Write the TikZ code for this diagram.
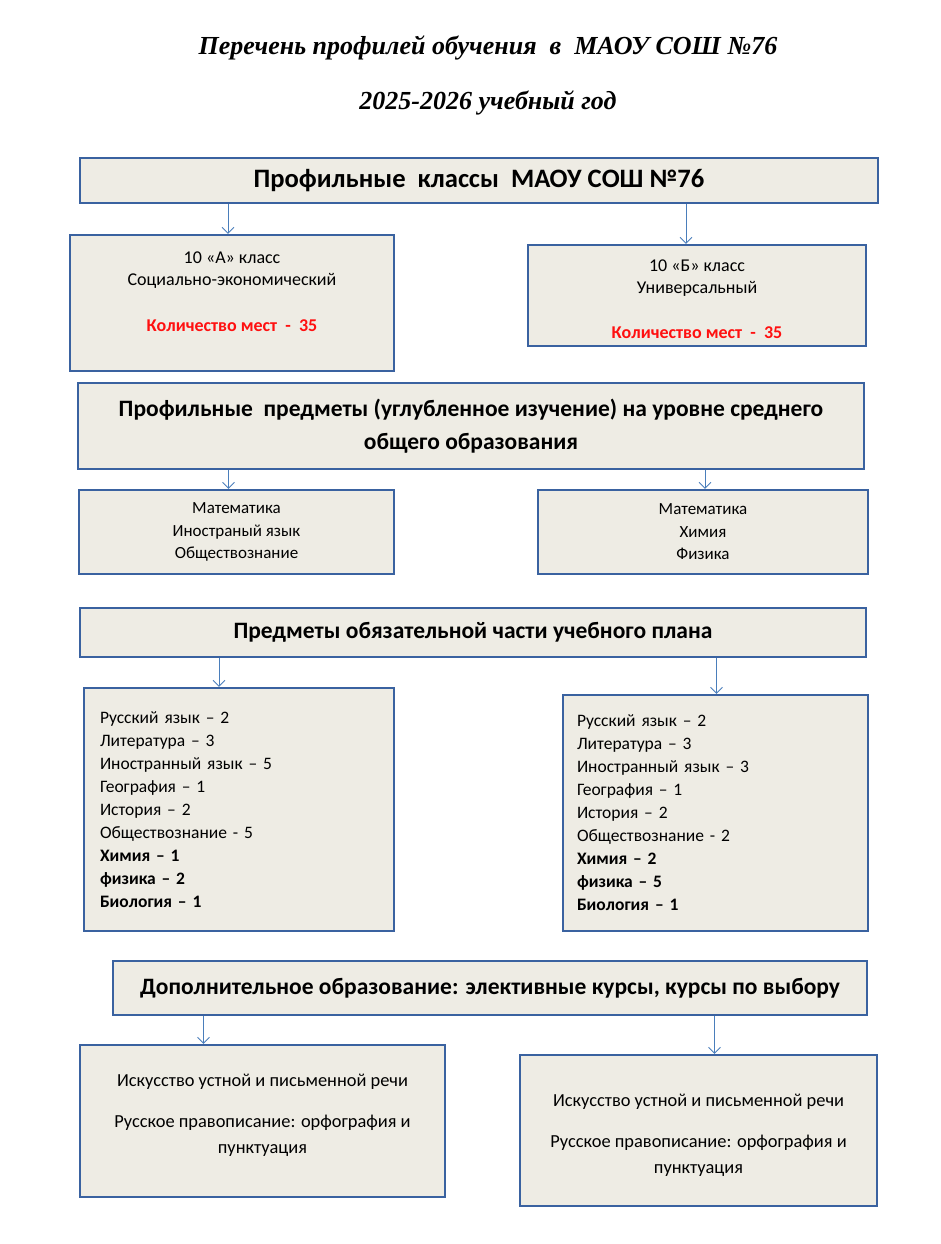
\documentclass[tikz,border=0pt]{standalone}
\usepackage{fontspec}
\setmainfont{Carlito}
\newfontfamily\titelschrift{Liberation Serif}
\usetikzlibrary{arrows.meta,positioning}
\definecolor{rahmen}{HTML}{3A62A0}
\definecolor{fuell}{HTML}{EEECE4}
\definecolor{pfeilblau}{HTML}{4A7EBB}
\definecolor{rot}{HTML}{FF1010}

\begin{document}
\begin{tikzpicture}[x=1pt, y=-1pt,
		box/.style={draw=rahmen, line width=2.2pt, fill=fuell, inner sep=0pt, align=center},
		kopf/.style={box, font=\fontsize{23.5}{33}\selectfont\bfseries},
		klein/.style={inner sep=0pt, align=center, font=\fontsize{18}{22}\selectfont},
		liste/.style={box, align=left, font=\fontsize{17.5}{23}\selectfont},
		pfeil/.style={draw=pfeilblau, line width=0.9pt, -{Straight Barb[length=6pt,width=12pt,line width=0.9pt]}},
		titel/.style={font=\fontsize{26}{30}\titelschrift\bfseries\itshape}]
	% Rahmen des Bildes
	\useasboundingbox (0,0) rectangle (940,1244);
	% Ueberschrift
	\node[titel] (titel1) at (488,48) {Перечень профилей обучения \ в \ МАОУ СОШ №76};
	\node[titel] (titel2) at (488,103) {2025-2026 учебный год};
	% Profilklassen
	\node[kopf, minimum width=798, minimum height=45, font=\fontsize{26.6}{30}\selectfont\bfseries] (klassen) at (479,180.5) {Профильные \ классы \ МАОУ СОШ №76};
	\node[box, minimum width=324, minimum height=136] (kl10a) at (232,303) {};
	\node[box, minimum width=338, minimum height=101] (kl10b) at (697,295.5) {};
	\node[klein, below=18pt of kl10a.north] (t10a) {10 «А» класс\\ Социально-экономический\\[24pt] {\color{rot}\bfseries Количество мест \ - \ 35}};
	\node[klein, below=16pt of kl10b.north] (t10b) {10 «Б» класс\\ Универсальный\\[23pt] {\color{rot}\bfseries Количество мест \ - \ 35}};
	\draw[pfeil] ([xshift=-4]kl10a.north |- klassen.south) -- ([xshift=-4]kl10a.north);
	\draw[pfeil] ([xshift=-11]kl10b.north |- klassen.south) -- ([xshift=-11]kl10b.north);
	% Profilfaecher
	\node[kopf, minimum width=786, minimum height=86] (profil) at (471,426) {Профильные \ предметы (углубленное изучение) на уровне среднего\\ общего образования};
	\node[box, minimum width=315, minimum height=84, font=\fontsize{17}{22.5}\selectfont] (fach1) at (236.5,532) {Математика\\ Иностраный язык\\ Обществознание};
	\node[box, minimum width=330, minimum height=84, font=\fontsize{17}{22.5}\selectfont] (fach2) at (703,532) {Математика\\ Химия\\ Физика};
	\draw[pfeil] ([xshift=-8]fach1.north |- profil.south) -- ([xshift=-8]fach1.north);
	\draw[pfeil] ([xshift=2]fach2.north |- profil.south) -- ([xshift=2]fach2.north);
	% Pflichtfaecher
	\node[kopf, minimum width=786, minimum height=49] (pflicht) at (473,632.5) {Предметы обязательной части учебного плана};
	\node[liste, minimum width=310, minimum height=243, text width=278] (liste1) at (239,809.5) {Русский язык -- 2\\ Литература -- 3\\ Иностранный язык -- 5\\ География -- 1\\ История -- 2\\ Обществознание - 5\\ \textbf{Химия -- 1}\\ \textbf{физика -- 2}\\ \textbf{Биология -- 1}};
	\node[liste, minimum width=305, minimum height=236, text width=277] (liste2) at (715.5,813) {Русский язык -- 2\\ Литература -- 3\\ Иностранный язык -- 3\\ География -- 1\\ История -- 2\\ Обществознание - 2\\ \textbf{Химия -- 2}\\ \textbf{физика -- 5}\\ \textbf{Биология -- 1}};
	\draw[pfeil] ([xshift=-20]liste1.north |- pflicht.south) -- ([xshift=-20]liste1.north);
	\draw[pfeil] ([xshift=1]liste2.north |- pflicht.south) -- ([xshift=1]liste2.north);
	% Zusatzangebot
	\node[kopf, minimum width=754, minimum height=54] (zusatz) at (490,988) {Дополнительное образование: элективные курсы, курсы по выбору};
	\node[box, minimum width=365, minimum height=152] (kurs1) at (262.5,1121) {};
	\node[box, minimum width=357, minimum height=151] (kurs2) at (698.5,1130.5) {};
	\node[klein, below=30pt of kurs1.north, font=\fontsize{18.4}{26}\selectfont] (tk1) {Искусство устной и письменной речи\\[15pt] Русское правописание: орфография и\\ пунктуация};
	\node[klein, below=40pt of kurs2.north, font=\fontsize{18.4}{26}\selectfont] (tk2) {Искусство устной и письменной речи\\[15pt] Русское правописание: орфография и\\ пунктуация};
	\draw[pfeil] ([xshift=-59]kurs1.north |- zusatz.south) -- ([xshift=-59]kurs1.north);
	\draw[pfeil] ([xshift=16]kurs2.north |- zusatz.south) -- ([xshift=16]kurs2.north);
\end{tikzpicture}
\end{document}
